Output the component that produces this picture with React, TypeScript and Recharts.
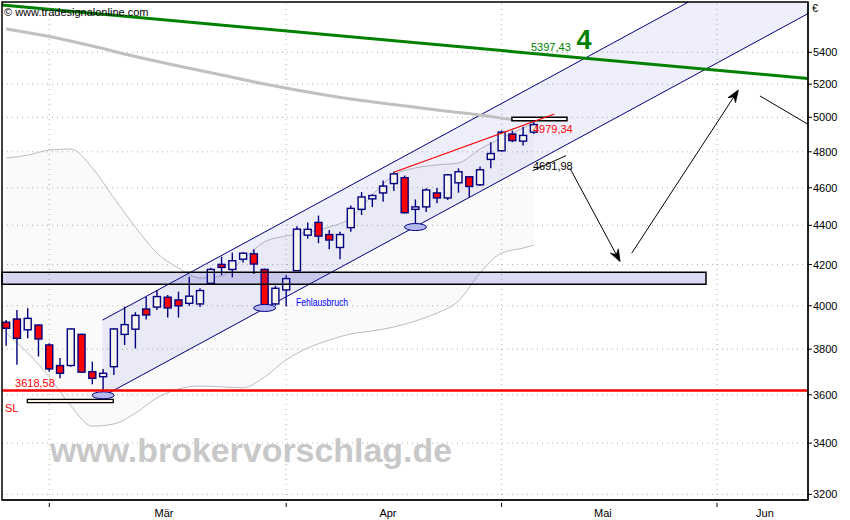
import React from "react";
import {
  ComposedChart,
  XAxis,
  YAxis,
  CartesianGrid,
  Bar,
  Line,
  Area,
  ReferenceLine,
  ReferenceArea,
  ReferenceDot,
} from "recharts";

// ---------- data ----------
const OPEN = [3923, 3938, 3888, 3910, 3819, 3727, 3727, 3867, 3700, 3678, 3722, 3867, 3891, 3985, 3994, 4041, 4028, 4012, 4009, 4108, 4201, 4176, 4227, 4254, 4176, 4009, 4076, 4170, 4349, 4415, 4352, 4286, 4388, 4484, 4540, 4572, 4623, 4655, 4484, 4497, 4572, 4545, 4627, 4660, 4616, 4757, 4806, 4902, 4861, 4913];
const HIGH = [3933, 3980, 3988, 3912, 3827, 3760, 3895, 3870, 3744, 3712, 3895, 3996, 3970, 4042, 4076, 4052, 4068, 4140, 4084, 4184, 4239, 4260, 4262, 4277, 4180, 4096, 4148, 4395, 4415, 4451, 4375, 4366, 4505, 4577, 4565, 4639, 4688, 4667, 4537, 4597, 4599, 4676, 4707, 4662, 4717, 4854, 4922, 4922, 4944, 4979];
const LOW = [3815, 3730, 3849, 3767, 3700, 3671, 3722, 3695, 3645, 3589, 3686, 3819, 3803, 3936, 3980, 3945, 3945, 4000, 3994, 4104, 4148, 4137, 4210, 4153, 3980, 4000, 3997, 4170, 4330, 4308, 4277, 4227, 4366, 4454, 4496, 4525, 4583, 4462, 4388, 4470, 4516, 4534, 4573, 4548, 4610, 4707, 4801, 4855, 4836, 4902];
const CLOSE = [3895, 3849, 3941, 3846, 3712, 3693, 3892, 3698, 3671, 3693, 3892, 3912, 3955, 3957, 4044, 3990, 4000, 4046, 4073, 4176, 4186, 4219, 4257, 4203, 3994, 4084, 4131, 4380, 4379, 4344, 4324, 4352, 4489, 4550, 4558, 4609, 4676, 4466, 4497, 4588, 4545, 4671, 4688, 4607, 4699, 4790, 4913, 4864, 4894, 4957];

const BAND_X = [0, 2, 4, 6, 8, 10, 12, 14, 16, 18, 20, 22, 24, 26, 28, 30, 32, 34, 36, 38, 40, 42, 44, 46, 48, 49];
const BAND_UPPER = [4765, 4781, 4810, 4816, 4709, 4545, 4391, 4258, 4183, 4134, 4144, 4228, 4315, 4345, 4365, 4391, 4438, 4561, 4670, 4709, 4726, 4737, 4816, 4879, 4937, 4966];
const BAND_LOWER = [3873, 3783, 3677, 3553, 3469, 3478, 3523, 3587, 3625, 3638, 3634, 3630, 3677, 3752, 3805, 3841, 3869, 3883, 3901, 3929, 3966, 4023, 4159, 4258, 4283, 4298];

const MA_X = [0, 4, 8, 12, 16, 20, 24, 28, 32, 36, 40, 44, 47, 49];
const MA_VAL = [5551, 5502, 5440, 5373, 5313, 5257, 5201, 5152, 5110, 5076, 5043, 5014, 4987, 4978];

const CHANNEL_X = [8.94, 74.45];
const CHANNEL_LOWER = [3593, 5653];
const CHANNEL_UPPER = [3933, 6189];

const Y_TICKS = [3200, 3400, 3600, 3800, 4000, 4200, 4400, 4600, 4800, 5000, 5200, 5400];
const MONTH_STARTS = [4, 26, 46, 66];
const MONTH_LABEL_POS = [14.65, 35.45, 55.4, 70.45];
const MONTH_LABELS = ["Mär", "Apr", "Mai", "Jun"];

const X_DOMAIN: [number, number] = [-0.39, 74.45];
const Y_DOMAIN: [number, number] = [3178.6, 5731.3];

const GREEN_LINE = [{ i: -0.39, v: 5711 }, { i: 74.45, v: 5235 }];
const RED_TREND = [{ i: 36, v: 4685 }, { i: 50.9, v: 5020 }];
const SL_LEVEL = 3618.58;
const SUPPORT_ZONE = { i1: -0.39, i2: 64.98, lo: 4103, hi: 4162 };
const RES_BOX = { i1: 46.96, i2: 52.07, lo: 4980, hi: 5000 };
const SL_BOX = { i1: 1.96, i2: 9.94, lo: 3567, hi: 3581 };
const MARKED_LOWS = [{ i: 9, v: 3598 }, { i: 24, v: 3990 }, { i: 38, v: 4391 }];

const ARROWS = [
  { a: { i: 48.89, v: 4694 }, b: { i: 51.98, v: 4778 }, head: false },
  { a: { i: 52.35, v: 4707 }, b: { i: 57.0, v: 4215 }, head: true },
  { a: { i: 58.08, v: 4257 }, b: { i: 67.98, v: 5164 }, head: true },
  { a: { i: 69.99, v: 5128 }, b: { i: 74.45, v: 4959 }, head: false },
];

const LABELS = [
  { text: "5397,43", i: 48.73, v: 5434, color: "#008000", size: 11, bold: false, anchor: "start" },
  { text: "4", i: 53.65, v: 5479, color: "#008000", size: 27, bold: true, anchor: "middle" },
  { text: "4979,34", i: 48.91, v: 4934, color: "#ff0000", size: 11, bold: false, anchor: "start" },
  { text: "4691,98", i: 48.91, v: 4720, color: "#000000", size: 11, bold: false, anchor: "start" },
  { text: "3618,58", i: 0.82, v: 3649, color: "#ff0000", size: 11, bold: false, anchor: "start" },
  { text: "SL", i: -0.11, v: 3546, color: "#ff0000", size: 11, bold: false, anchor: "start" },
  { text: "Fehlausbruch", i: 26.91, v: 4016, color: "#0000ff", size: 11, bold: false, anchor: "start", len: 52 },
];

// ---------- derived tables ----------
const candles = OPEN.map((o, i) => ({
  i,
  o,
  h: HIGH[i],
  l: LOW[i],
  c: CLOSE[i],
  range: [LOW[i], HIGH[i]],
}));
const bandData = BAND_X.map((i, k) => ({ i, band: [BAND_LOWER[k], BAND_UPPER[k]] }));
const maData = MA_X.map((i, k) => ({ i, ma: MA_VAL[k] }));
const channelData = CHANNEL_X.map((i, k) => ({ i, ch: [CHANNEL_LOWER[k], CHANNEL_UPPER[k]] }));

const NAVY = "#000080";
const RED = "#ff0000";
const UP_FILL = "#f6f6ee";
const FONT = "'Liberation Sans', Arial, sans-serif";

const Candle = (props: any) => {
  const { x, y, width, height, payload } = props;
  if (!payload || height == null || isNaN(y)) return <g />;
  const cx = x + width / 2;
  const { o, h, l, c } = payload;
  const span = Math.log(h) - Math.log(l);
  const py = (v: number) => (span > 0 ? y + ((Math.log(h) - Math.log(v)) / span) * height : y);
  const up = c >= o;
  const top = py(Math.max(o, c));
  const bot = py(Math.min(o, c));
  return (
    <g>
      <line x1={cx} x2={cx} y1={y} y2={y + height} stroke={NAVY} strokeWidth={1.4} />
      <rect x={cx - 3.5} y={top} width={7} height={Math.max(bot - top, 1.5)} fill={up ? UP_FILL : RED} stroke={NAVY} strokeWidth={1.4} />
    </g>
  );
};

const XTick = (props: any) => {
  const { x, y, payload } = props;
  const v = payload.value;
  if (MONTH_STARTS.indexOf(v) >= 0) {
    return <line x1={x} x2={x} y1={y + 3} y2={y + 7} stroke="#000" strokeWidth={1} />;
  }
  const j = MONTH_LABEL_POS.indexOf(v);
  return (
    <text x={x} y={y + 13} textAnchor="middle" dominantBaseline="central" fontSize={11} fontFamily={FONT} fill="#000">
      {MONTH_LABELS[j] ?? ""}
    </text>
  );
};

const arrowShape = (head: boolean) => (p: any) => {
  const { x1, y1, x2, y2 } = p;
  if ([x1, y1, x2, y2].some((n) => n == null || isNaN(n))) return <g />;
  const ang = Math.atan2(y2 - y1, x2 - x1);
  const ux = Math.cos(ang);
  const uy = Math.sin(ang);
  const nx = -uy;
  const ny = ux;
  const L = 12;
  const W = 4.5;
  const N = 8;
  const bx = x2 - ux * L;
  const by = y2 - uy * L;
  const pts = [
    [x2, y2],
    [bx + nx * W, by + ny * W],
    [x2 - ux * N, y2 - uy * N],
    [bx - nx * W, by - ny * W],
  ]
    .map((q) => q.join(","))
    .join(" ");
  return (
    <g>
      <line x1={x1} y1={y1} x2={head ? x2 - ux * 6 : x2} y2={head ? y2 - uy * 6 : y2} stroke="#000" strokeWidth={1} />
      {head ? <polygon points={pts} fill="#000" stroke="#000" strokeWidth={0.8} /> : null}
    </g>
  );
};

const ellipseShape = (p: any) => (
  <ellipse cx={p.cx} cy={p.cy} rx={11} ry={3.5} fill="#b4baf0" stroke={NAVY} strokeWidth={1} />
);

const textShape = (t: any) => (p: any) => (
  <text
    x={p.cx}
    y={p.cy}
    textAnchor={t.anchor}
    dominantBaseline="central"
    fontSize={t.size}
    fontWeight={t.bold ? 700 : 400}
    fontFamily={FONT}
    fill={t.color}
    {...(t.len ? { textLength: t.len, lengthAdjust: "spacingAndGlyphs" } : {})}
  >
    {t.text}
  </text>
);

export default function App() {
  return (
    <div style={{ position: "absolute", left: 0, top: 0, width: 850, height: 520, background: "#fff" }}>
      <ComposedChart width={850} height={520} data={candles} margin={{ top: 2, right: 0, bottom: 0, left: 2 }}>
        <CartesianGrid vertical={false} stroke="#b0b0b0" strokeDasharray="1 4" />
        <XAxis
          dataKey="i"
          type="number"
          domain={X_DOMAIN}
          allowDataOverflow
          ticks={[...MONTH_STARTS, ...MONTH_LABEL_POS].sort((a, b) => a - b)}
          tick={XTick}
          tickLine={false}
          tickSize={0}
          tickMargin={0}
          interval={0}
          height={20}
          axisLine={{ stroke: "#000" }}
        />
        <YAxis
          orientation="right"
          scale="log"
          domain={Y_DOMAIN}
          allowDataOverflow
          ticks={Y_TICKS}
          interval={0}
          width={42}
          tickSize={4}
          tickMargin={1}
          axisLine={{ stroke: "#000" }}
          tickLine={{ stroke: "#000" }}
          tick={{ fontSize: 11, fill: "#000", fontFamily: FONT }}
        />
        {MONTH_STARTS.map((m) => (
          <ReferenceLine key={"vg" + m} x={m} stroke="#b0b0b0" strokeDasharray="1 4" ifOverflow="visible" zIndex={5} />
        ))}
        <Area
          data={bandData}
          dataKey="band"
          type="monotone"
          stroke="#bcbcbc"
          strokeWidth={1}
          fill="#000000"
          fillOpacity={0.018}
          isAnimationActive={false}
          dot={false}
          activeDot={false}
          zIndex={10}
        />
        <Area
          data={channelData}
          dataKey="ch"
          type="linear"
          stroke={NAVY}
          strokeWidth={1}
          fill="#4a4ae0"
          fillOpacity={0.09}
          isAnimationActive={false}
          dot={false}
          activeDot={false}
          zIndex={20}
        />
        <Line
          data={maData}
          dataKey="ma"
          type="monotone"
          stroke="#c0c0c0"
          strokeWidth={3}
          dot={false}
          activeDot={false}
          isAnimationActive={false}
          zIndex={30}
        />
        <Bar dataKey="range" barSize={7} shape={Candle} isAnimationActive={false} zIndex={300} />
        <ReferenceArea
          x1={SUPPORT_ZONE.i1}
          x2={SUPPORT_ZONE.i2}
          y1={SUPPORT_ZONE.lo}
          y2={SUPPORT_ZONE.hi}
          fill="#3030c0"
          fillOpacity={0.18}
          stroke="#000"
          strokeWidth={1.5}
          ifOverflow="visible"
          zIndex={350}
        />
        <ReferenceArea
          x1={RES_BOX.i1}
          x2={RES_BOX.i2}
          y1={RES_BOX.lo}
          y2={RES_BOX.hi}
          fill="#ffffff"
          fillOpacity={1}
          stroke="#000"
          strokeWidth={1.5}
          ifOverflow="visible"
          zIndex={360}
        />
        <ReferenceArea
          x1={SL_BOX.i1}
          x2={SL_BOX.i2}
          y1={SL_BOX.lo}
          y2={SL_BOX.hi}
          fill="#fbf3e2"
          fillOpacity={1}
          stroke="#000"
          strokeWidth={1.3}
          ifOverflow="visible"
          zIndex={360}
        />
        <ReferenceLine
          segment={[{ x: RED_TREND[0].i, y: RED_TREND[0].v }, { x: RED_TREND[1].i, y: RED_TREND[1].v }]}
          stroke={RED}
          strokeWidth={1.2}
          ifOverflow="visible"
          zIndex={370}
        />
        {MARKED_LOWS.map((d, k) => (
          <ReferenceDot key={"el" + k} x={d.i} y={d.v} r={3} shape={ellipseShape} ifOverflow="visible" zIndex={380} />
        ))}
        <ReferenceLine y={SL_LEVEL} stroke={RED} strokeWidth={2.6} ifOverflow="visible" zIndex={390} />
        <ReferenceLine
          segment={[{ x: GREEN_LINE[0].i, y: GREEN_LINE[0].v }, { x: GREEN_LINE[1].i, y: GREEN_LINE[1].v }]}
          stroke="#008000"
          strokeWidth={3}
          ifOverflow="visible"
          zIndex={400}
        />
        {ARROWS.map((a, k) => (
          <ReferenceLine
            key={"ar" + k}
            segment={[{ x: a.a.i, y: a.a.v }, { x: a.b.i, y: a.b.v }]}
            stroke="#000"
            shape={arrowShape(a.head)}
            ifOverflow="visible"
            zIndex={410}
          />
        ))}
        <ReferenceArea
          x1={X_DOMAIN[0]}
          x2={X_DOMAIN[1]}
          y1={Y_DOMAIN[0]}
          y2={Y_DOMAIN[1]}
          fill="none"
          fillOpacity={0}
          stroke="#000"
          strokeWidth={1.5}
          ifOverflow="visible"
          zIndex={415}
        />
        {LABELS.map((t, k) => (
          <ReferenceDot key={"lb" + k} x={t.i} y={t.v} r={1} shape={textShape(t)} ifOverflow="visible" zIndex={420} />
        ))}
      </ComposedChart>
      <svg
        width={850}
        height={520}
        style={{ position: "absolute", left: 0, top: 0, pointerEvents: "none" }}
      >
        <text x={4} y={16} fontSize={11} fontFamily={FONT} fill="#000">
          © www.tradesignalonline.com
        </text>
        <text x={812} y={12} fontSize={11} fontFamily={FONT} fill="#000">
          €
        </text>
        <text
          x={50}
          y={462}
          fontSize={34}
          fontWeight={700}
          fontFamily={FONT}
          fill="#c8c8c8"
          textLength={402}
          lengthAdjust="spacingAndGlyphs"
        >
          www.brokervorschlag.de
        </text>
      </svg>
    </div>
  );
}
